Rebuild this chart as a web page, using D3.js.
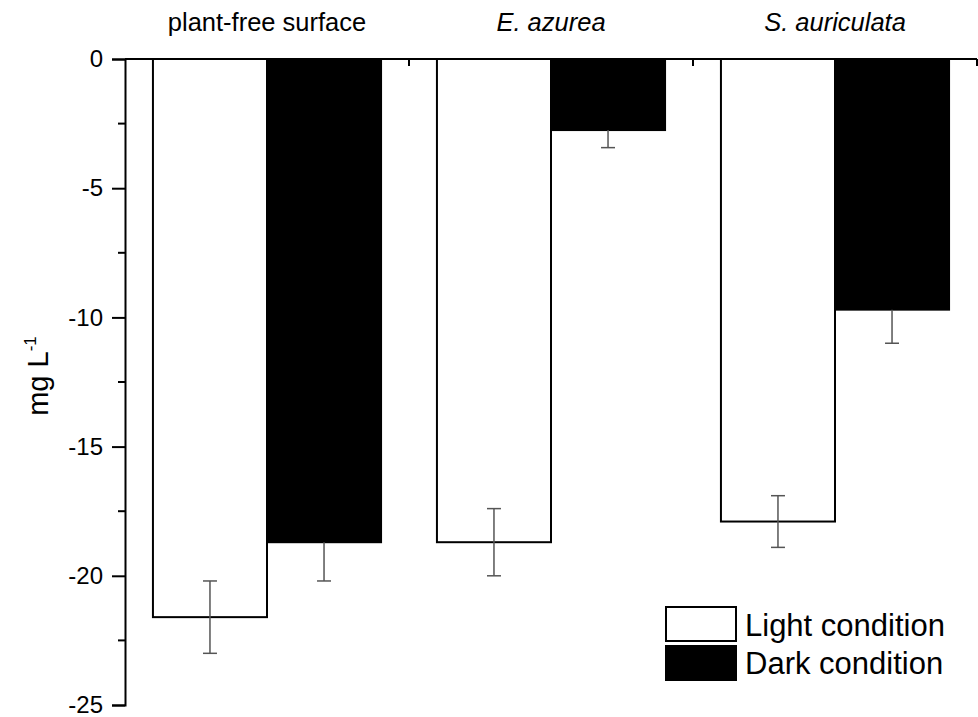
<!DOCTYPE html>
<html>
<head>
<meta charset="utf-8">
<script src="https://cdn.jsdelivr.net/npm/d3@7"></script>
<style>
  body { margin: 0; background: #fff; }
  svg { display: block; font-family: "Liberation Sans", Arial, sans-serif; }
</style>
</head>
<body>
<svg id="chart" width="978" height="717"></svg>
<script>
// data
var groups = ["plant-free surface", "E. azurea", "S. auriculata"];
var groupItalic = [false, true, true];
var series = ["Light condition", "Dark condition"];
var lightValues = [-21.6, -18.7, -17.9];
var lightErrors = [1.4, 1.3, 1.0];
var darkValues = [-18.7, -2.75, -9.7];
var darkErrors = [1.5, 0.68, 1.3];
var yTicks = [0, -5, -10, -15, -20, -25];

var svg = d3.select("#chart");
var mLeft = 125, mRight = 977, mTop = 59, mBottom = 705;

var x0 = d3.scaleBand().domain(groups).range([mLeft, mRight]).paddingInner(0).paddingOuter(0);
var x1 = d3.scaleBand().domain(series).range([0, x0.bandwidth()]).paddingInner(0).paddingOuter(0.245);
var y = d3.scaleLinear().domain([0, -25]).range([mTop, mBottom]);

var rows = [];
groups.forEach(function(g, i){
  rows.push({g: g, s: series[0], v: lightValues[i], e: lightErrors[i]});
  rows.push({g: g, s: series[1], v: darkValues[i], e: darkErrors[i]});
});

// bars
svg.append("g").selectAll("rect")
  .data(rows)
  .enter().append("rect")
    .attr("x", function(d){ return x0(d.g) + x1(d.s); })
    .attr("y", y(0))
    .attr("width", x1.bandwidth())
    .attr("height", function(d){ return y(d.v) - y(0); })
    .attr("fill", function(d){ return d.s == series[0] ? "#fff" : "#000"; })
    .attr("stroke", "#000")
    .attr("stroke-width", 2);

// error bars
var eb = svg.append("g").attr("stroke", "#555").attr("stroke-width", 1.5);
rows.forEach(function(d){
  var cx = x0(d.g) + x1(d.s) + x1.bandwidth() / 2;
  var lo = y(d.v - d.e), hi = y(d.v + d.e);
  if (d.s == series[1]) hi = y(d.v);
  eb.append("line").attr("x1", cx).attr("x2", cx).attr("y1", hi).attr("y2", lo);
  eb.append("line").attr("x1", cx - 7).attr("x2", cx + 7).attr("y1", lo).attr("y2", lo);
  if (d.s == series[0])
    eb.append("line").attr("x1", cx - 7).attr("x2", cx + 7).attr("y1", hi).attr("y2", hi);
});

// y axis
var yAxis = d3.axisLeft(y).tickValues(yTicks).tickSize(13).tickPadding(9).tickFormat(d3.format("d"));
var ya = svg.append("g")
  .attr("transform", "translate(" + mLeft + ",0)")
  .call(yAxis);
ya.attr("font-family", null).attr("font-size", 24);
ya.select(".domain").attr("stroke-width", 2);
ya.selectAll(".tick line").attr("stroke-width", 2);
ya.selectAll(".tick text").attr("fill", "#000")
  .text(function(d){ return d == 0 ? "0" : "-" + Math.abs(d); });
// minor ticks
svg.append("g").selectAll("line")
  .data([-2.5, -7.5, -12.5, -17.5, -22.5])
  .enter().append("line")
    .attr("x1", mLeft - 7).attr("x2", mLeft)
    .attr("y1", function(d){ return y(d); }).attr("y2", function(d){ return y(d); })
    .attr("stroke", "#000").attr("stroke-width", 2);

// top x axis at zero
svg.append("line")
  .attr("x1", mLeft).attr("x2", mRight)
  .attr("y1", y(0)).attr("y2", y(0))
  .attr("stroke", "#000").attr("stroke-width", 2);
svg.append("g").selectAll("line")
  .data(groups.slice(1).concat(["end"]))
  .enter().append("line")
    .attr("x1", function(d){ return d == "end" ? mRight : x0(d); })
    .attr("x2", function(d){ return d == "end" ? mRight : x0(d); })
    .attr("y1", y(0)).attr("y2", y(0) + 7)
    .attr("stroke", "#000").attr("stroke-width", 2);

// group labels
svg.append("g").selectAll("text")
  .data(groups)
  .enter().append("text")
    .attr("x", function(d){ return x0(d) + x0.bandwidth() / 2; })
    .attr("y", 31)
    .attr("text-anchor", "middle")
    .attr("font-size", 25.5)
    .attr("font-style", function(d, i){ return groupItalic[i] ? "italic" : "normal"; })
    .text(function(d){ return d; });

// y label
var yl = svg.append("text")
  .attr("transform", "translate(48,376) rotate(-90)")
  .attr("text-anchor", "middle")
  .attr("font-size", 29);
yl.append("tspan").text("mg L");
yl.append("tspan").attr("dy", -12).attr("font-size", 17).text("-1");

// legend
var legend = svg.append("g");
series.forEach(function(s, i){
  legend.append("rect")
    .attr("x", 666).attr("y", 607 + i * 39)
    .attr("width", 70).attr("height", 34)
    .attr("fill", i == 0 ? "#fff" : "#000")
    .attr("stroke", "#000").attr("stroke-width", 2);
  legend.append("text")
    .attr("x", 745).attr("y", 636 + i * 38)
    .attr("font-size", 31)
    .text(s);
});
</script>
</body>
</html>
